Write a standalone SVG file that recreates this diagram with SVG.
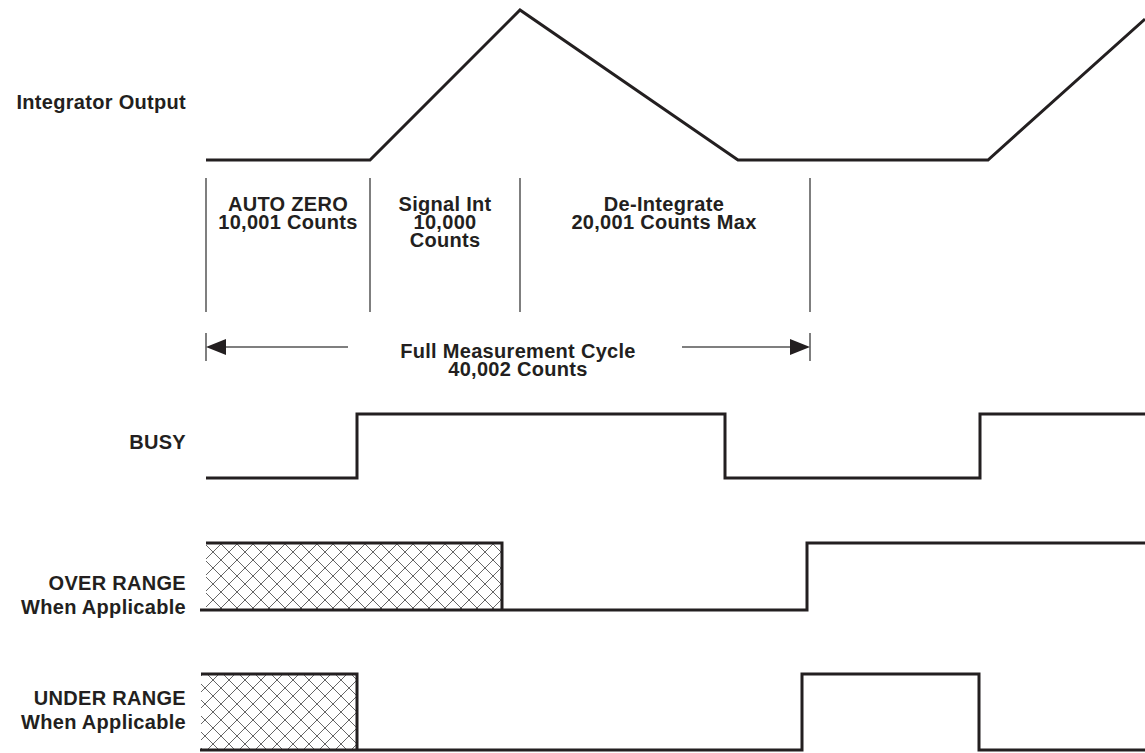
<svg xmlns="http://www.w3.org/2000/svg" width="1145" height="753" viewBox="0 0 1145 753">
<defs>
<style>
.t{font-family:"Liberation Sans",Arial,sans-serif;font-weight:bold;font-size:20px;letter-spacing:0.3px;fill:#231f20}
.l{text-anchor:end}
.c{text-anchor:middle}
.sig{fill:none;stroke:#231f20;stroke-width:3;stroke-linejoin:miter}
.div{stroke:#555;stroke-width:1.5;fill:none}
</style>
<pattern id="hatch" width="16" height="16" patternUnits="userSpaceOnUse" x="205" y="0">
<path d="M0,0 L16,16 M16,0 L0,16 M-8,8 L0,16 M8,-8 L16,0" stroke="#666" stroke-width="1" fill="none"/>
</pattern>
</defs>
<rect width="1145" height="753" fill="#fff"/>
<g id="labels">
<text class="t l" x="186" y="109">Integrator Output</text>
<text class="t l" x="186" y="449">BUSY</text>
<text class="t l" x="186" y="590">OVER RANGE</text>
<text class="t l" x="186" y="614">When Applicable</text>
<text class="t l" x="186" y="705">UNDER RANGE</text>
<text class="t l" x="186" y="729">When Applicable</text>
</g>
<g id="integrator">
<polyline class="sig" points="206,160 370,160 520,10 738,160 988,160 1145,19"/>
</g>
<g id="phases">
<line class="div" x1="206" y1="178" x2="206" y2="312"/>
<line class="div" x1="370" y1="178" x2="370" y2="312"/>
<line class="div" x1="520" y1="178" x2="520" y2="312"/>
<line class="div" x1="810" y1="178" x2="810" y2="312"/>
<text class="t c" x="288" y="211">AUTO ZERO</text>
<text class="t c" x="288" y="229">10,001 Counts</text>
<text class="t c" x="445" y="211">Signal Int</text>
<text class="t c" x="445" y="229">10,000</text>
<text class="t c" x="445" y="247">Counts</text>
<text class="t c" x="664" y="211">De-Integrate</text>
<text class="t c" x="664" y="229">20,001 Counts Max</text>
</g>
<g id="cycle">
<line class="div" x1="206" y1="333" x2="206" y2="361"/>
<line class="div" x1="810" y1="333" x2="810" y2="361"/>
<line class="div" x1="220" y1="347" x2="348" y2="347"/>
<line class="div" x1="682" y1="347" x2="796" y2="347"/>
<polygon points="206,347 226,339 226,355" fill="#231f20"/>
<polygon points="810,347 790,339 790,355" fill="#231f20"/>
<text class="t c" x="518" y="358">Full Measurement Cycle</text>
<text class="t c" x="518" y="376">40,002 Counts</text>
</g>
<g id="busy">
<polyline class="sig" points="206,478 357,478 357,414 725,414 725,478 980,478 980,414 1145,414"/>
</g>
<g id="overrange">
<rect x="206" y="543" width="296" height="67" fill="url(#hatch)"/>
<polyline class="sig" points="206,543 502,543 502,610"/>
<polyline class="sig" points="200,610 807,610 807,543 1145,543"/>
</g>
<g id="underrange">
<rect x="201" y="674" width="156" height="76" fill="url(#hatch)"/>
<polyline class="sig" points="201,674 357,674 357,750"/>
<polyline class="sig" points="200,750 802,750 802,674 979,674 979,750 1145,750"/>
</g>
</svg>
